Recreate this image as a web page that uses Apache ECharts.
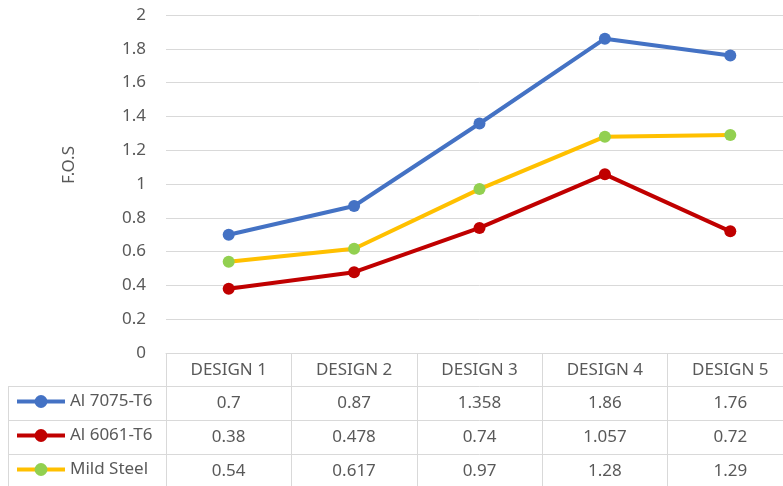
<!DOCTYPE html>
<html>
<head>
<meta charset="utf-8">
<script src="https://cdn.jsdelivr.net/npm/echarts@6/dist/echarts.min.js"></script>
<style>
  html, body { margin: 0; padding: 0; background: #fff; overflow: hidden; }
  #chart { width: 793px; height: 486px; }
</style>
</head>
<body>
<div id="chart"></div>
<script>
// Factor of safety per design, three materials
const categories = ['DESIGN 1', 'DESIGN 2', 'DESIGN 3', 'DESIGN 4', 'DESIGN 5'];
const seriesNames = ['Al 7075-T6', 'Al 6061-T6', 'Mild Steel'];
const al7075 = [0.7, 0.87, 1.358, 1.86, 1.76];
const al6061 = [0.38, 0.478, 0.74, 1.057, 0.72];
const mildSteel = [0.54, 0.617, 0.97, 1.28, 1.29];
const rows = [al7075, al6061, mildSteel];

const lineColors = ['#4472C4', '#C00000', '#FFC000'];
const markerColors = ['#4472C4', '#C00000', '#92D050'];

const FONT = 'Noto Sans';
const TXT = '#595959';
const GRID_LINE = '#D9D9D9';
const FS = 17;

// the plot runs slightly past the right edge of the window, as the table does
const gridLeft = 166, gridTop = 15, gridH = 338, gridW = 627;
const rowH = 34;
const headerH = 33;

const chart = echarts.init(document.getElementById('chart'), null, { renderer: 'canvas' });

// Main category axis (header row of the data table) plus one axis per value row
const xAxes = [{
  type: 'category',
  data: categories,
  boundaryGap: true,
  axisLine: { show: true, lineStyle: { color: GRID_LINE, width: 1 } },
  axisTick: { show: true, length: 136, lineStyle: { color: GRID_LINE, width: 1 } },
  axisLabel: { interval: 0, color: TXT, fontFamily: FONT, fontSize: FS, margin: 9 },
  splitLine: { show: false }
}];
rows.forEach((vals, r) => {
  xAxes.push({
    type: 'category',
    data: categories,
    position: 'bottom',
    offset: headerH + r * rowH,
    axisLine: { show: true, lineStyle: { color: GRID_LINE, width: 1 } },
    axisTick: { show: false },
    splitLine: { show: false },
    axisLabel: {
      interval: 0, color: TXT, fontFamily: FONT, fontSize: FS, margin: 9,
      formatter: (v, i) => String(vals[i])
    }
  });
});

const series = rows.map((vals, r) => ({
  name: seriesNames[r],
  type: 'line',
  xAxisIndex: 0,
  data: vals,
  symbol: 'circle',
  symbolSize: 12,
  lineStyle: { color: lineColors[r], width: 4 },
  itemStyle: { color: markerColors[r] },
  emphasis: { disabled: true },
  animation: false
}));

const legends = seriesNames.map((name, r) => ({
  data: [name],
  left: 15,
  top: gridTop + gridH + headerH + r * rowH + 7,
  itemWidth: 48,
  itemHeight: 16,
  itemGap: 0,
  padding: 0,
  lineStyle: { width: 4 },
  textStyle: { color: TXT, fontFamily: FONT, fontSize: FS },
  selectedMode: false
}));

// Borders of the series-name column of the table
const tableTop = gridTop + gridH + headerH;
const leftCol = [];
for (let r = 0; r < 3; r++) {
  const y = tableTop + r * rowH + 0.5;
  leftCol.push({ type: 'line', shape: { x1: 8.5, y1: y, x2: gridLeft, y2: y }, style: { stroke: GRID_LINE, lineWidth: 1 }, silent: true });
}
leftCol.push({ type: 'line', shape: { x1: 8.5, y1: tableTop, x2: 8.5, y2: 490 }, style: { stroke: GRID_LINE, lineWidth: 1 }, silent: true });

chart.setOption({
  animation: false,
  grid: { left: gridLeft, top: gridTop, width: gridW, height: gridH, containLabel: false },
  xAxis: xAxes,
  yAxis: {
    type: 'value',
    min: 0, max: 2, interval: 0.2,
    name: 'F.O.S',
    nameLocation: 'middle',
    nameGap: 88,
    nameTextStyle: { color: TXT, fontFamily: FONT, fontSize: FS, padding: [0, 0, 0, 38] },
    axisLine: { show: false },
    axisTick: { show: false },
    axisLabel: { color: TXT, fontFamily: FONT, fontSize: FS, margin: 20 },
    splitLine: { show: true, lineStyle: { color: GRID_LINE, width: 1 } }
  },
  legend: legends,
  series: series,
  graphic: leftCol
});
</script>
</body>
</html>
